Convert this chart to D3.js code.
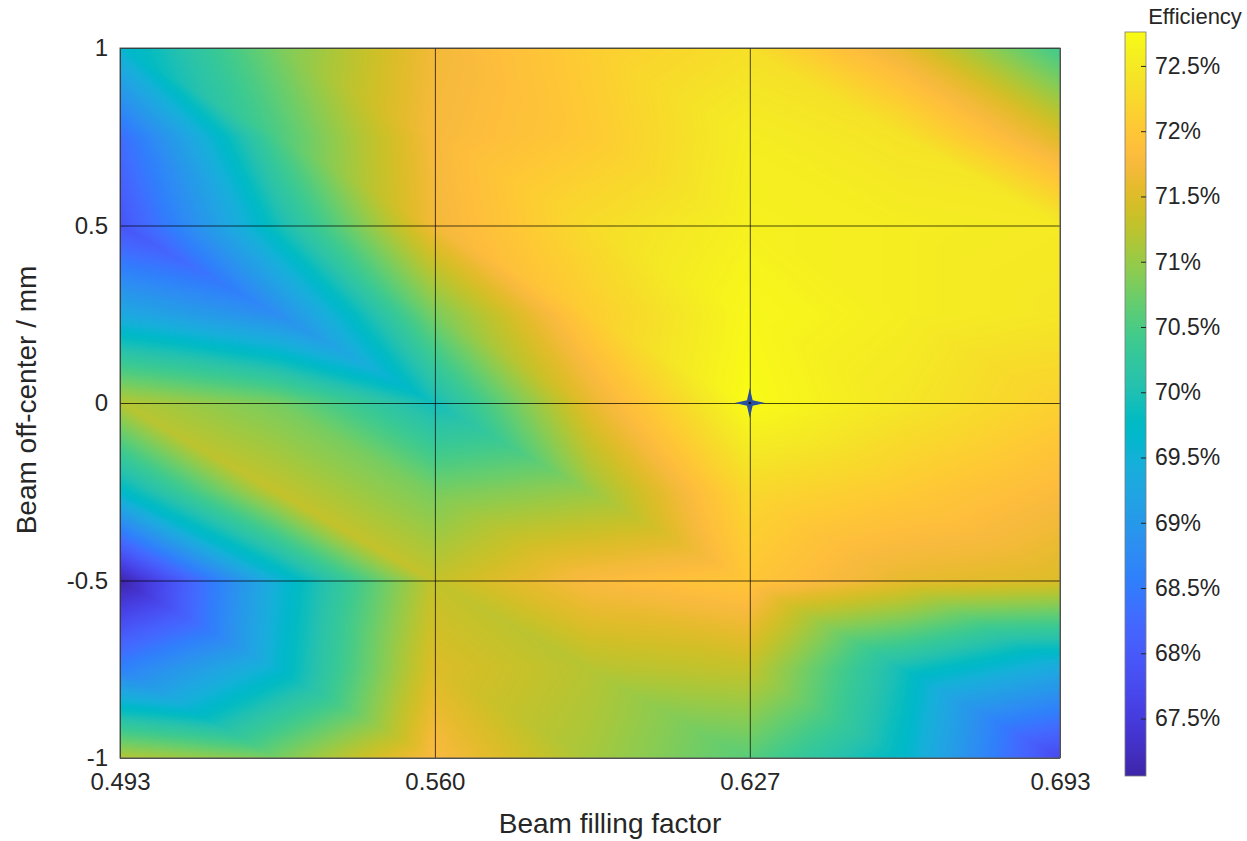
<!DOCTYPE html>
<html>
<head>
<meta charset="utf-8">
<script src="https://cdn.jsdelivr.net/npm/d3@7"></script>
<style>
body { margin: 0; background: #fff; }
text { font-family: "Liberation Sans", Arial, sans-serif; fill: #262626; }
</style>
</head>
<body>
<div id="chart"></div>
<script>
// grid of the measurement (beam filling factor x beam off-center)
const xValues = [0.493, 0.5265, 0.560, 0.5935, 0.627, 0.660, 0.693]
const yValues = [1, 0.75, 0.5, 0.25, 0, -0.25, -0.5, -0.75, -1]

// efficiency in %, one row per yValues entry, one column per xValues entry
const effRow1    = [69.6, 70.8, 71.7, 72.1, 72.35, 71.6, 70.4]
const effRow075  = [68.3, 70.5, 71.75, 72.05, 72.55, 72.4, 71.5]
const effRow05   = [67.9, 69.9, 71.7, 72.3, 72.6, 72.55, 72.5]
const effRow025  = [69.3, 68.8, 70.8, 72.1, 72.7, 72.55, 72.45]
const effRow0    = [71.2, 70.8, 69.9, 71.6, 72.76, 72.45, 72.15]
const effRowm025 = [69.7, 71.3, 70.8, 71.0, 72.25, 72.05, 71.8]
const effRowm05  = [67.06, 69.5, 71.3, 71.8, 72.0, 71.6, 71.5]
const effRowm075 = [68.6, 69.6, 71.5, 71.2, 71.3, 69.9, 69.3]
const effRowm1   = [71.2, 70.8, 71.8, 71.1, 70.6, 69.7, 67.7]
const efficiency = [effRow1, effRow075, effRow05, effRow025, effRow0, effRowm025, effRowm05, effRowm075, effRowm1]

const xTicks = [0.493, 0.560, 0.627, 0.693]
const yTicks = [1, 0.5, 0, -0.5, -1]
const cTicks = [67.5, 68, 68.5, 69, 69.5, 70, 70.5, 71, 71.5, 72, 72.5]
const bestPoint = {x: 0.627, y: 0}

// matlab parula (64)
const parula = [[0.2422,0.1504,0.6603],[0.2504,0.1650,0.7076],[0.2578,0.1818,0.7511],[0.2647,0.1978,0.7952],[0.2706,0.2147,0.8364],[0.2751,0.2342,0.8710],[0.2783,0.2559,0.8991],[0.2803,0.2782,0.9221],[0.2813,0.3006,0.9414],[0.2810,0.3228,0.9579],[0.2795,0.3447,0.9717],[0.2760,0.3667,0.9829],[0.2699,0.3892,0.9906],[0.2602,0.4123,0.9952],[0.2440,0.4358,0.9988],[0.2206,0.4603,0.9973],[0.1963,0.4847,0.9892],[0.1834,0.5074,0.9798],[0.1786,0.5289,0.9682],[0.1764,0.5499,0.9520],[0.1687,0.5703,0.9359],[0.1540,0.5902,0.9218],[0.1460,0.6091,0.9079],[0.1380,0.6276,0.8973],[0.1248,0.6459,0.8883],[0.1113,0.6635,0.8763],[0.0952,0.6798,0.8598],[0.0689,0.6948,0.8394],[0.0297,0.7082,0.8163],[0.0036,0.7203,0.7917],[0.0067,0.7312,0.7660],[0.0433,0.7411,0.7394],[0.0964,0.7500,0.7120],[0.1408,0.7584,0.6842],[0.1717,0.7670,0.6554],[0.1938,0.7758,0.6251],[0.2161,0.7843,0.5923],[0.2470,0.7918,0.5567],[0.2906,0.7973,0.5188],[0.3406,0.8008,0.4789],[0.3909,0.8029,0.4354],[0.4456,0.8024,0.3909],[0.5044,0.7993,0.3480],[0.5616,0.7942,0.3045],[0.6174,0.7876,0.2612],[0.6720,0.7793,0.2227],[0.7242,0.7698,0.1910],[0.7738,0.7598,0.1646],[0.8203,0.7498,0.1535],[0.8634,0.7406,0.1596],[0.9035,0.7330,0.1774],[0.9393,0.7288,0.2100],[0.9728,0.7298,0.2394],[0.9956,0.7434,0.2371],[0.9970,0.7659,0.2199],[0.9952,0.7893,0.2028],[0.9892,0.8136,0.1885],[0.9786,0.8386,0.1766],[0.9676,0.8639,0.1643],[0.9610,0.8890,0.1537],[0.9597,0.9135,0.1423],[0.9628,0.9373,0.1265],[0.9691,0.9606,0.1064],[0.9769,0.9839,0.0805]]
  .map(c => d3.rgb(c[0]*255, c[1]*255, c[2]*255).formatHex())

const margin = ({top: 48, right: 187, bottom: 83, left: 120})
const W = 1247, H = 841
const width = W - margin.left - margin.right,
height = H - margin.top - margin.bottom

const svg = d3.select('#chart').append('svg')
    .attr('width', W)
    .attr('height', H)

const x = d3.scaleLinear().domain([0.493, 0.693]).range([0, width])
const y = d3.scaleLinear().domain([-1, 1]).range([height, 0])

const allVals = efficiency.flat()
const [vmin, vmax] = d3.extent(allVals)
const color = d3.scaleLinear()
    .domain(parula.map((c, i) => vmin + i * (vmax - vmin) / (parula.length - 1)))
    .range(parula)
    .clamp(true)

// lookup table so we don't parse colours per pixel
const lut = d3.range(1024).map(i => d3.rgb(color(vmin + i / 1023 * (vmax - vmin))))

const colIdx = d3.scaleLinear().domain([xValues[0], xValues[xValues.length-1]]).range([0, xValues.length-1]).clamp(true)
const rowIdx = d3.scaleLinear().domain([yValues[0], yValues[yValues.length-1]]).range([0, yValues.length-1]).clamp(true)

// value at a data point, linear on triangles (like matlab interp shading)
function valueAt(xv, yv) {
  let c = colIdx(xv), r = rowIdx(yv)
  let i = Math.min(Math.floor(c), xValues.length - 2)
  let j = Math.min(Math.floor(r), yValues.length - 2)
  let u = c - i, v = r - j
  const tl = efficiency[j][i], tr = efficiency[j][i+1]
  const bl = efficiency[j+1][i], br = efficiency[j+1][i+1]
  if (u >= v) return tl + u * (tr - tl) + v * (br - tr)
  return tl + v * (bl - tl) + u * (br - bl)
}

const canvas = document.createElement('canvas')
canvas.width = width
canvas.height = height
const ctx = canvas.getContext('2d')
const img = ctx.createImageData(width, height)
for (let py = 0; py < height; py++) {
  const yv = y.invert(py + 0.5)
  for (let px = 0; px < width; px++) {
    const val = valueAt(x.invert(px + 0.5), yv)
    const k = Math.max(0, Math.min(1023, Math.round((val - vmin) / (vmax - vmin) * 1023)))
    const c = lut[k]
    const o = (py * width + px) * 4
    img.data[o] = c.r
    img.data[o+1] = c.g
    img.data[o+2] = c.b
    img.data[o+3] = 255
  }
}
ctx.putImageData(img, 0, 0)

const g = svg.append('g')
    .attr('transform', `translate(${margin.left},${margin.top})`)

g.append('image')
    .attr('x', 0).attr('y', 0)
    .attr('width', width).attr('height', height)
    .attr('preserveAspectRatio', 'none')
    .attr('href', canvas.toDataURL())

// axes + grid
const xAxis = g.append('g')
    .attr('transform', `translate(0,${height})`)
    .call(d3.axisBottom(x).tickValues(xTicks).tickFormat(d3.format('.3f')).tickSize(-height).tickPadding(15))
xAxis.select('.domain').remove()
xAxis.selectAll('line').attr('stroke', '#000').attr('stroke-opacity', 0.7)
xAxis.selectAll('text').attr('font-size', 24).attr('fill', '#262626')

const yAxis = g.append('g')
    .call(d3.axisLeft(y).tickValues(yTicks).tickFormat(d => d).tickSize(-width).tickPadding(12))
yAxis.select('.domain').remove()
yAxis.selectAll('line').attr('stroke', '#000').attr('stroke-opacity', 0.7)
yAxis.selectAll('text').attr('font-size', 24).attr('fill', '#262626')

g.append('rect')
    .attr('width', width).attr('height', height)
    .attr('fill', 'none')
    .attr('stroke', '#595959')
    .attr('stroke-width', 1)

// best point marker: 4 point star
const star = d3.lineRadial()
    .angle((d, i) => i * Math.PI / 4)
    .radius(d => d)
    .curve(d3.curveLinearClosed)
g.append('path')
    .attr('d', star([15, 4, 15, 4, 15, 4, 15, 4]))
    .attr('transform', `translate(${x(bestPoint.x)},${y(bestPoint.y)})`)
    .attr('fill', '#2a4f9e')
g.append('circle')
    .attr('cx', x(bestPoint.x)).attr('cy', y(bestPoint.y))
    .attr('r', 1.3)
    .attr('fill', '#111')

// labels
svg.append('text')
    .attr('x', 610)
    .attr('y', 833)
    .attr('text-anchor', 'middle')
    .attr('font-size', 28)
    .text('Beam filling factor')

svg.append('text')
    .attr('transform', `translate(36,${margin.top + height / 2 - 3}) rotate(-90)`)
    .attr('text-anchor', 'middle')
    .attr('font-size', 28)
    .text('Beam off-center / mm')

// colorbar
const cbX = 1125, cbW = 21, cbTop = 32, cbBottom = 776
const cScale = d3.scaleLinear().domain([vmin, vmax]).range([cbBottom, cbTop])

const grad = svg.append('defs').append('linearGradient')
    .attr('id', 'cbgrad')
    .attr('x1', 0).attr('y1', 1).attr('x2', 0).attr('y2', 0)
grad.selectAll('stop')
    .data(parula)
    .enter()
    .append('stop')
    .attr('offset', (d, i) => i / (parula.length - 1))
    .attr('stop-color', d => d)

svg.append('rect')
    .attr('x', cbX).attr('y', cbTop)
    .attr('width', cbW).attr('height', cbBottom - cbTop)
    .attr('fill', 'url(#cbgrad)')
    .attr('stroke', '#7a7a7a')
    .attr('stroke-width', 0.8)

const cAxis = svg.append('g')
    .attr('transform', `translate(${cbX + cbW},0)`)
    .call(d3.axisRight(cScale).tickValues(cTicks).tickFormat(d => `${+d.toFixed(1)}%`).tickSizeInner(-5).tickSizeOuter(0).tickPadding(9))
cAxis.select('.domain').remove()
cAxis.selectAll('line').attr('stroke', '#262626')
cAxis.selectAll('text').attr('font-size', 23).attr('fill', '#262626')

svg.append('text')
    .attr('x', 1195)
    .attr('y', 24)
    .attr('text-anchor', 'middle')
    .attr('font-size', 22)
    .text('Efficiency')
</script>
</body>
</html>
